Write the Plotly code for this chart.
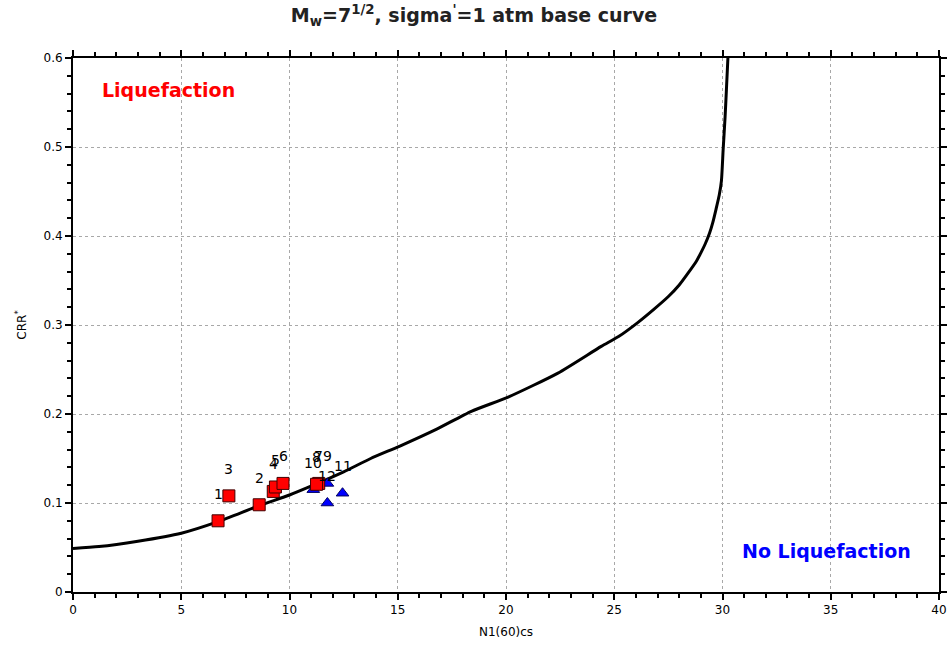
import plotly.graph_objects as go

# Base curve
curve_n = [0.0, 1.2, 3.0, 5.0, 6.7, 8.6, 10.0, 11.1, 12.5, 13.75, 15.1, 16.8, 18.4, 20.1,
           22.4, 24.4, 25.2, 26.1, 26.8, 27.5, 28.0, 28.4, 28.8, 29.0, 29.2, 29.4, 29.55,
           29.7, 29.85, 29.95, 30.03, 30.12, 30.18, 30.25]
curve_crr = [0.049, 0.051, 0.057, 0.066, 0.079, 0.097, 0.109, 0.120, 0.135, 0.150, 0.164, 0.183,
             0.203, 0.219, 0.246, 0.276, 0.287, 0.303, 0.317, 0.332, 0.345, 0.358, 0.372, 0.381,
             0.391, 0.403, 0.415, 0.430, 0.446, 0.462, 0.497, 0.534, 0.564, 0.600]

# Liquefaction points (red squares)
liq_id = ["1", "2", "3", "4", "5", "6", "7", "8"]
liq_n = [6.7, 8.6, 7.2, 9.25, 9.35, 9.7, 11.35, 11.25]
liq_crr = [0.080, 0.098, 0.108, 0.113, 0.118, 0.122, 0.122, 0.121]

# No-liquefaction points (blue triangles)
noliq_id = ["9", "10", "11", "12"]
noliq_n = [11.75, 11.1, 12.45, 11.75]
noliq_crr = [0.122, 0.115, 0.111, 0.100]

title_text = "M<sub>w</sub>=7<sup>1/2</sup>, sigma<sup>'</sup>=1 atm base curve"
x_title = "N1(60)cs"
y_title = "CRR<sup>*</sup>"

fig = go.Figure()
fig.add_trace(go.Scatter(x=curve_n, y=curve_crr, mode="lines",
                         line=dict(color="black", width=3, shape="spline", smoothing=0.6),
                         showlegend=False))
fig.add_trace(go.Scatter(x=noliq_n, y=noliq_crr, mode="markers",
                         marker=dict(symbol="triangle-up", size=11, color="#0000FF",
                                     line=dict(color="#000060", width=1)), showlegend=False))
fig.add_trace(go.Scatter(x=liq_n, y=liq_crr, mode="markers",
                         marker=dict(symbol="square", size=12, color="#FF0000",
                                     line=dict(color="#400000", width=1)), showlegend=False))

annos = []
for i, x, y in zip(liq_id + noliq_id, liq_n + noliq_n, liq_crr + noliq_crr):
    annos.append(dict(x=x, y=y, text=i, showarrow=False, yshift=27,
                      font=dict(family="DejaVu Sans", size=14, color="black")))
annos.append(dict(x=0.031, y=0.94, xref="x domain", yref="y domain", xanchor="left", yanchor="middle",
                  text="<b>Liquefaction</b>", showarrow=False,
                  font=dict(family="DejaVu Sans", size=19, color="#FF0000")))
annos.append(dict(x=0.770, y=0.077, xref="x domain", yref="y domain", xanchor="left", yanchor="middle",
                  text="<b>No Liquefaction</b>", showarrow=False,
                  font=dict(family="DejaVu Sans", size=19, color="#0000FF")))

axis_common = dict(showline=True, linecolor="black", linewidth=2, mirror="ticks",
                   ticks="outside", ticklen=6, tickcolor="black", tickwidth=2,
                   showgrid=True, gridcolor="#A8A8A8", griddash="dot", gridwidth=1,
                   zeroline=False, automargin=False, ticklabeloverflow="allow",
                   tickfont=dict(family="DejaVu Sans", size=12, color="black"))

fig.update_xaxes(range=[0, 40], dtick=5,
                 title=dict(text=x_title, font=dict(family="DejaVu Sans", size=12, color="black"), standoff=11),
                 minor=dict(dtick=1, ticks="outside", ticklen=4, tickcolor="black", showgrid=False),
                 **axis_common)
fig.update_yaxes(range=[0, 0.6], dtick=0.1,
                 title=dict(text=y_title, font=dict(family="DejaVu Sans", size=12, color="black"), standoff=14),
                 minor=dict(dtick=0.02, ticks="outside", ticklen=4, tickcolor="black", showgrid=False),
                 **axis_common)

fig.update_layout(
    width=948, height=653,
    margin=dict(l=73, r=9, t=58, b=61),
    paper_bgcolor="white", plot_bgcolor="white",
    title=dict(text="<b>" + title_text + "</b>", x=0.5, xanchor="center",
               y=0.977, yref="container", yanchor="middle",
               font=dict(family="DejaVu Sans", size=19, color="#222222")),
    annotations=annos,
)
# remove the page's default body margin so the figure fills the window exactly
fig.write_html("out.html", config={"displayModeBar": False},
               post_script="document.body.style.margin='0';document.body.style.overflow='hidden';")
